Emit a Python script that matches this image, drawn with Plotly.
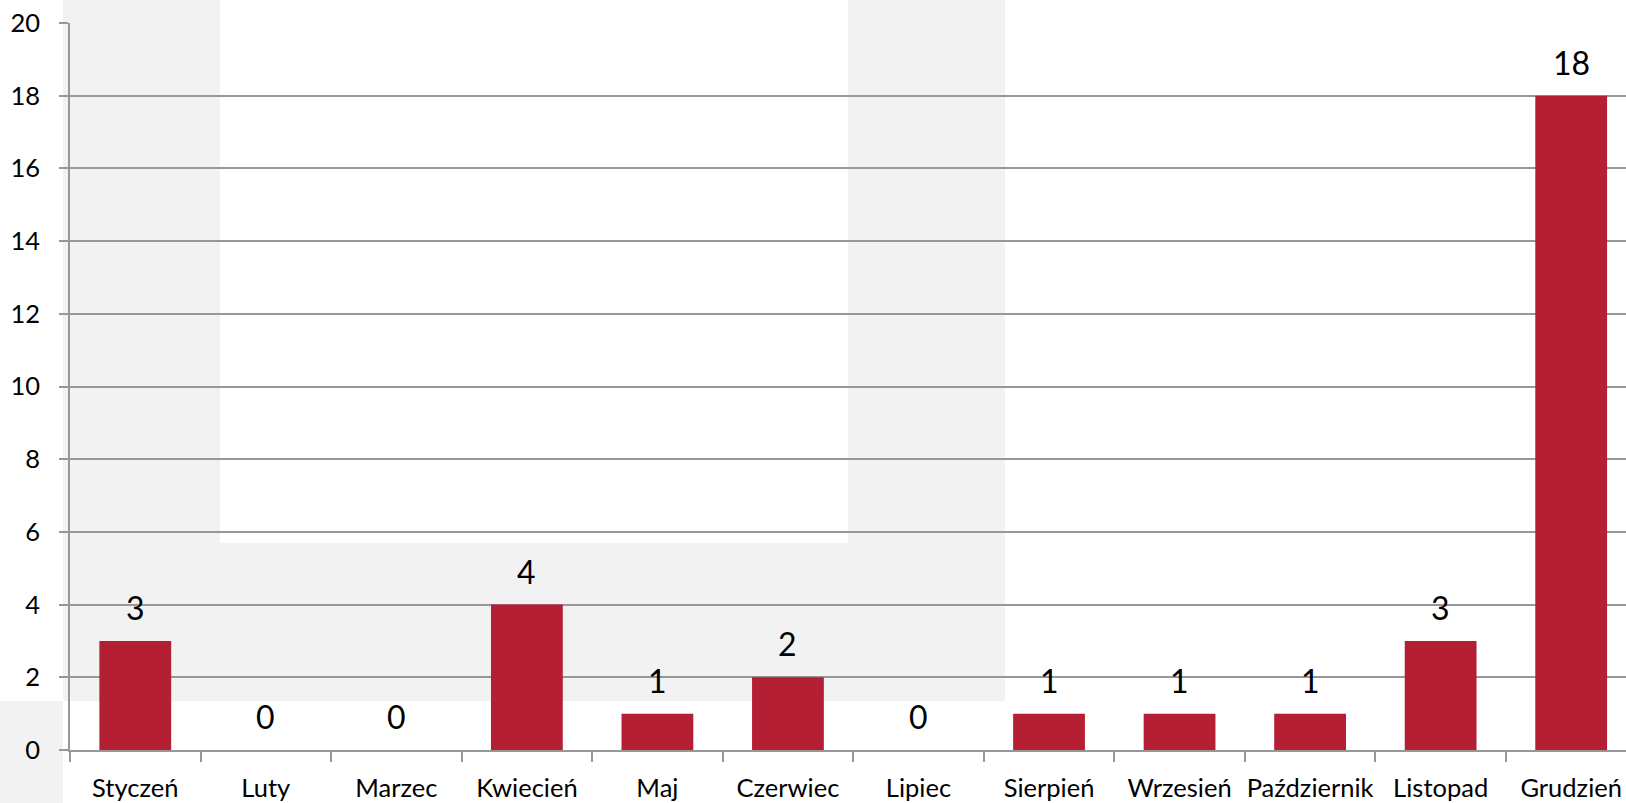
import plotly.graph_objects as go

# monthly counts
months = ["Styczeń", "Luty", "Marzec", "Kwiecień", "Maj", "Czerwiec",
          "Lipiec", "Sierpień", "Wrzesień", "Październik", "Listopad", "Grudzień"]
counts = [3, 0, 0, 4, 1, 2, 0, 1, 1, 1, 3, 18]
y_ticks = [0, 2, 4, 6, 8, 10, 12, 14, 16, 18, 20]

BAR_RED = "#B51F34"
GRID = "#979797"
BG_GREY = "#F2F2F2"
FONT = "Lato"

W, H = 1626, 803
ML, MR, MT, MB = 70, 0, 23, 53
PW, PH = W - ML - MR, H - MT - MB


def px(x):
    return (x - ML) / PW


def py(y):
    return (H - MB - y) / PH


fig = go.Figure()
fig.add_trace(go.Bar(
    x=months, y=counts,
    marker=dict(color=BAR_RED, line=dict(width=0)),
    hoverinfo="x+y",
))

# data labels above every bar
for m, v in zip(months, counts):
    fig.add_annotation(
        x=m, y=v, text=str(v), showarrow=False,
        yanchor="bottom", yshift=12,
        font=dict(family=FONT, size=32, color="#000000"),
    )

# light grey background pieces behind the chart
grey_boxes = [
    (63, 0, 220, 701),
    (220, 543, 848, 701),
    (848, 0, 1005, 701),
    (0, 701, 63, 803),
]
for x0, y0, x1, y1 in grey_boxes:
    fig.add_shape(
        type="rect", xref="paper", yref="paper",
        x0=px(x0), x1=px(x1), y0=py(y1), y1=py(y0),
        fillcolor=BG_GREY, line=dict(width=0), layer="below",
    )

fig.update_layout(
    width=W, height=H,
    margin=dict(l=ML, r=MR, t=MT, b=MB, autoexpand=False),
    paper_bgcolor="white",
    plot_bgcolor="rgba(0,0,0,0)",
    bargap=0.45,
    showlegend=False,
    font=dict(family=FONT, size=25, color="#000000"),
)
fig.update_xaxes(
    range=[-0.5, 11.42],
    automargin=False,
    tickangle=0,
    showgrid=False,
    showline=True, linecolor=GRID, linewidth=1.5,
    ticks="outside", tickson="boundaries", ticklen=10,
    tickcolor=GRID, tickwidth=1.5,
    ticklabelstandoff=15,
    tickfont=dict(family=FONT, size=25.5, color="#000000"),
)
fig.update_yaxes(
    range=[0, 20], tickvals=y_ticks,
    automargin=False,
    showgrid=True, gridcolor=GRID, gridwidth=1.5,
    zeroline=False,
    showline=True, linecolor=GRID, linewidth=1.5,
    ticks="outside", ticklen=9, tickcolor=GRID, tickwidth=1.5,
    ticklabelstandoff=14,
    tickfont=dict(family=FONT, size=25.5, color="#000000"),
)

fig.write_html("out.html", config={"displayModeBar": False},
               post_script="document.body.style.margin='0px';")
